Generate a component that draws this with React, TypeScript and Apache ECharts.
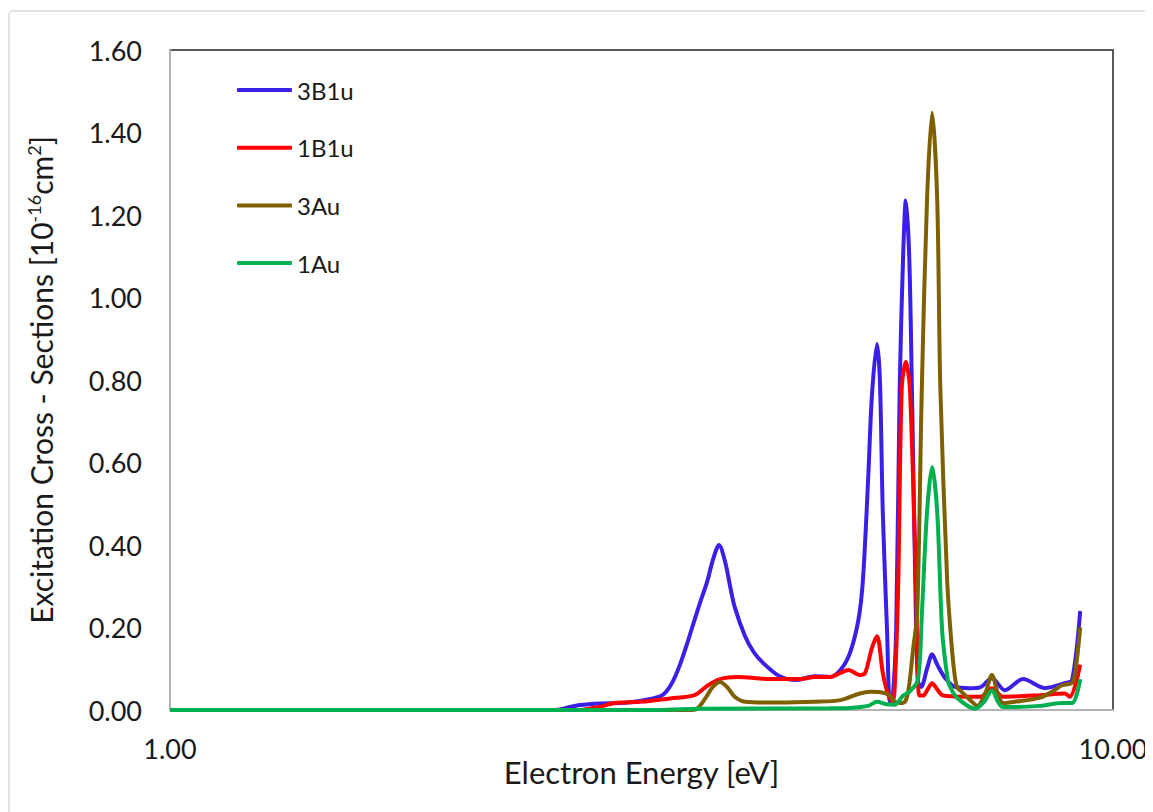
import React, { useEffect, useRef } from "react";
import * as echarts from "echarts";

const seriesNames = ["3B1u", "1B1u", "3Au", "1Au"];
const seriesColors = ["#3A1FE6", "#FF0000", "#7F6000", "#00B050"];

const e3B1u = [1.0, 2.56, 2.62, 2.72, 2.86, 3.0, 3.15, 3.31, 3.36, 3.415, 3.474, 3.534, 3.59, 3.648, 3.711, 3.766, 3.821, 3.878, 3.926, 3.97, 4.07, 4.16, 4.26, 4.43, 4.62, 4.83, 5.01, 5.14, 5.26, 5.37, 5.43, 5.5, 5.55, 5.62, 5.66, 5.7, 5.76, 5.8, 5.84, 5.89, 5.94, 5.99, 6.03, 6.08, 6.12, 6.17, 6.21, 6.26, 6.35, 6.43, 6.51, 6.64, 6.8, 7.05, 7.23, 7.44, 7.68, 8.03, 8.47, 8.89, 9.05, 9.23];
const v3B1u = [0, 0, 0.004, 0.012, 0.016, 0.017, 0.022, 0.033, 0.045, 0.07, 0.11, 0.16, 0.21, 0.26, 0.31, 0.365, 0.4, 0.36, 0.3, 0.25, 0.18, 0.14, 0.113, 0.082, 0.073, 0.082, 0.08, 0.097, 0.138, 0.218, 0.315, 0.56, 0.76, 0.887, 0.8, 0.48, 0.19, 0.02, 0.03, 0.2, 0.78, 1.1, 1.235, 1.1, 0.78, 0.315, 0.07, 0.056, 0.1, 0.135, 0.11, 0.077, 0.056, 0.053, 0.055, 0.077, 0.048, 0.075, 0.053, 0.065, 0.073, 0.24];

const e1B1u = [1.0, 2.72, 2.76, 2.86, 2.96, 3.15, 3.39, 3.6, 3.72, 3.83, 4.0, 4.33, 4.66, 4.83, 5.01, 5.14, 5.24, 5.39, 5.46, 5.55, 5.62, 5.7, 5.77, 5.84, 5.88, 5.92, 5.97, 6.03, 6.09, 6.18, 6.23, 6.29, 6.36, 6.43, 6.51, 6.59, 6.8, 7.23, 7.44, 7.65, 8.37, 8.89, 9.0, 9.23];
const v1B1u = [0, 0, 0.002, 0.008, 0.017, 0.02, 0.028, 0.036, 0.06, 0.075, 0.08, 0.075, 0.075, 0.08, 0.08, 0.09, 0.097, 0.085, 0.09, 0.15, 0.179, 0.09, 0.04, 0.02, 0.1, 0.315, 0.78, 0.844, 0.78, 0.315, 0.035, 0.035, 0.05, 0.065, 0.05, 0.036, 0.033, 0.032, 0.053, 0.032, 0.036, 0.04, 0.032, 0.11];

const e3Au = [1.0, 3.55, 3.62, 3.7, 3.76, 3.83, 3.9, 3.97, 4.07, 4.4, 4.83, 5.14, 5.39, 5.53, 5.67, 5.8, 5.87, 5.99, 6.06, 6.14, 6.2, 6.27, 6.35, 6.43, 6.51, 6.56, 6.67, 6.72, 6.78, 6.83, 6.88, 7.05, 7.18, 7.32, 7.44, 7.55, 7.65, 7.87, 8.37, 8.64, 8.83, 9.05, 9.13, 9.23];
const v3Au = [0, 0, 0.003, 0.03, 0.055, 0.068, 0.055, 0.032, 0.02, 0.018, 0.02, 0.024, 0.04, 0.044, 0.043, 0.035, 0.02, 0.017, 0.04, 0.15, 0.235, 0.78, 1.236, 1.448, 1.236, 0.78, 0.315, 0.2, 0.1, 0.056, 0.048, 0.025, 0.01, 0.04, 0.085, 0.04, 0.017, 0.02, 0.03, 0.046, 0.06, 0.066, 0.1, 0.2];

const e1Au = [1.0, 3.3, 3.65, 5.0, 5.26, 5.5, 5.62, 5.75, 5.87, 5.99, 6.09, 6.21, 6.27, 6.35, 6.43, 6.51, 6.59, 6.68, 6.72, 6.83, 7.14, 7.3, 7.44, 7.55, 7.645, 8.37, 8.83, 9.05, 9.23];
const v1Au = [0, 0, 0.003, 0.004, 0.005, 0.01, 0.02, 0.014, 0.013, 0.035, 0.045, 0.073, 0.23, 0.48, 0.589, 0.48, 0.19, 0.073, 0.056, 0.03, 0.003, 0.02, 0.048, 0.02, 0.007, 0.01, 0.017, 0.017, 0.075];

const energies = [e3B1u, e1B1u, e3Au, e1Au];
const values = [v3B1u, v1B1u, v3Au, v1Au];

const FONT = "Lato, 'Open Sans', sans-serif";
const TEXT = "#1a1a1a";

export default function App() {
  const ref = useRef<HTMLDivElement>(null);
  useEffect(() => {
    const chart = echarts.init(ref.current!, null, { renderer: "svg" });
    const series = seriesNames.map((name, i) => ({
      name,
      type: "line",
      data: energies[i].map((e, j) => [e, values[i][j]]),
      showSymbol: false,
      symbol: "none",
      smooth: 0.3,
      lineStyle: { color: seriesColors[i], width: 4 },
      itemStyle: { color: seriesColors[i] },
      z: 3 + i,
    }));
    chart.setOption({
      animation: false,
      textStyle: { fontFamily: FONT },
      graphic: [
        {
          type: "rect",
          silent: true,
          z: -10,
          shape: { x: 1, y: 3, width: 1170, height: 830, r: 4 },
          style: { fill: "none", stroke: "#d9d9d9", lineWidth: 1.5 },
        },
      ],
      grid: {
        left: 162,
        top: 42,
        right: 40,
        bottom: 102,
        show: true,
        borderColor: "#595959",
        borderWidth: 2,
        containLabel: false,
      },
      legend: {
        orient: "vertical",
        left: 224,
        top: 65,
        icon: "roundRect",
        itemWidth: 55,
        itemHeight: 4,
        itemGap: 33.7,
        data: seriesNames,
        textStyle: { fontSize: 24, color: TEXT, fontFamily: FONT, lineHeight: 24 },
      },
      xAxis: {
        type: "log",
        logBase: 10,
        min: 1,
        max: 10,
        name: "Electron Energy [eV]",
        nameLocation: "middle",
        nameGap: 46,
        nameMoveOverlap: false,
        nameTextStyle: { fontSize: 31, color: TEXT, fontFamily: FONT },
        axisLine: { show: true, lineStyle: { color: "#b4b4b4", width: 2 } },
        axisTick: { show: false },
        splitLine: { show: false },
        axisLabel: {
          fontSize: 27,
          color: TEXT,
          margin: 25,
          fontFamily: FONT,
          showMinLabel: true,
          showMaxLabel: true,
          formatter: (v: number) => v.toFixed(2),
        },
      },
      yAxis: {
        type: "value",
        min: 0,
        max: 1.6,
        interval: 0.2,
        name: "Excitation Cross - Sections [10{sup|-16}cm{sup|2}]",
        nameLocation: "middle",
        nameGap: 113,
        nameMoveOverlap: false,
        nameTextStyle: {
          fontSize: 30,
          color: TEXT,
          fontFamily: FONT,
          rich: {
            sup: { fontSize: 18, color: TEXT, fontFamily: FONT, verticalAlign: "top", padding: [0, 0, 14, 0] },
          },
        },
        axisLine: { show: true, lineStyle: { color: "#b4b4b4", width: 2 } },
        axisTick: { show: false },
        splitLine: { show: false },
        axisLabel: {
          fontSize: 27,
          color: TEXT,
          margin: 28,
          fontFamily: FONT,
          formatter: (v: number) => v.toFixed(2),
        },
      },
      series,
    });
    return () => chart.dispose();
  }, []);
  return <div ref={ref} style={{ width: 1145, height: 804 }} />;
}
